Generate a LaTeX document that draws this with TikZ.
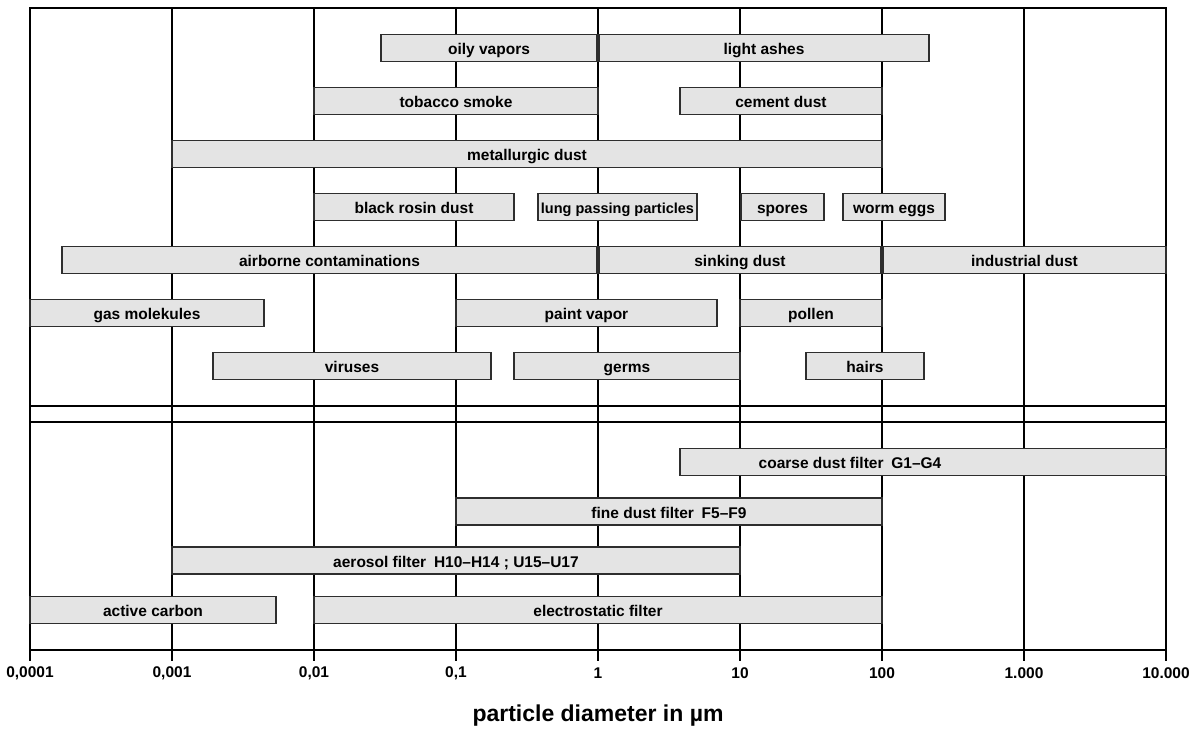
\documentclass[tikz,border=0pt]{standalone}
\usepackage{fontspec}
\usepackage{xcolor}
\usepackage{tikz}
\setmainfont{Liberation Sans}
\definecolor{barfill}{HTML}{E4E4E4}
\definecolor{barline}{HTML}{2E2E2E}

\begin{document}
\begin{tikzpicture}[x=1pt, y=-1pt,
  grid/.style={line width=2pt},
  bar/.style={draw=barline, fill=barfill, line width=1.4pt, minimum height=27pt,
    inner sep=0pt, outer sep=0pt, anchor=west, text height=13pt, text depth=0pt,
    font=\fontsize{15.5}{17}\selectfont\bfseries},
  barlen/.style={minimum width=#1pt},
  tick/.style={font=\fontsize{15.5}{17}\selectfont\bfseries}]
  \useasboundingbox (0,0) rectangle (1202,729);
  % decades (0,0001 ... 10.000), 142 per decade
  \foreach \i in {0,...,8}
    \draw[grid] ({30+142*\i},7.5) -- ({30+142*\i},661);
  \draw[grid] (29,7.5) -- (1167,7.5);
  \draw[grid] (29,650) -- (1167,650);
  % split between particles and filters
  \draw[line width=1.8pt] (29,405.7) -- (1167,405.7);
  \draw[line width=2.8pt] (29,422) -- (1167,422);
  % tick labels
  \foreach \i/\t in {0/{0,0001},1/{0,001},2/{0,01},3/{0,1},4/1,5/10,6/100,7/{1.000},8/{10.000}}
    \node[tick] (tick\i) at ({30+142*\i},673) {\t};
  \node[font=\fontsize{23}{27}\selectfont\bfseries] (xlabel) at (598,716) {particle diameter in µm};
  % particles
  \node[bar, barlen=216] (oily) at (381,48) {oily vapors};
  \node[bar, barlen=330] (ashes) at (599,48) {light ashes};
  \node[bar, barlen=284] (tobacco) at (314,101) {tobacco smoke};
  \node[bar, barlen=202] (cement) at (680,101) {cement dust};
  \node[bar, barlen=710] (metal) at (172,154) {metallurgic dust};
  \node[bar, barlen=200] (rosin) at (314,207) {black rosin dust};
  \node[bar, barlen=159, font=\fontsize{14.5}{16}\selectfont\bfseries] (lung) at (538,207) {lung passing particles};
  \node[bar, barlen=83] (spores) at (741,207) {spores};
  \node[bar, barlen=102] (worm) at (843,207) {worm eggs};
  \node[bar, barlen=535] (airborne) at (62,260) {airborne contaminations};
  \node[bar, barlen=282] (sinking) at (599,260) {sinking dust};
  \node[bar, barlen=283] (industrial) at (883,260) {industrial dust};
  \node[bar, barlen=234] (gas) at (30,313) {gas molekules};
  \node[bar, barlen=261] (paint) at (456,313) {paint vapor};
  \node[bar, barlen=142] (pollen) at (740,313) {pollen};
  \node[bar, barlen=278] (viruses) at (213,366) {viruses};
  \node[bar, barlen=226] (germs) at (514,366) {germs};
  \node[bar, barlen=118] (hairs) at (806,366) {hairs};
  % filters
  \node[bar, barlen=486] (coarse) at (680,462) {};
  \node[font=\fontsize{15.5}{17}\selectfont\bfseries, text height=13pt, text depth=0pt, inner sep=0pt] (coarsetext) at (850,462) {coarse dust filter\enspace G1--G4};
  \node[bar, barlen=426] (fine) at (456,511.5) {fine dust filter\enspace F5--F9};
  \node[bar, barlen=568] (aerosol) at (172,560.5) {aerosol filter\enspace H10--H14 ; U15--U17};
  \node[bar, barlen=246] (carbon) at (30,610) {active carbon};
  \node[bar, barlen=568] (electro) at (314,610) {electrostatic filter};
\end{tikzpicture}
\end{document}
